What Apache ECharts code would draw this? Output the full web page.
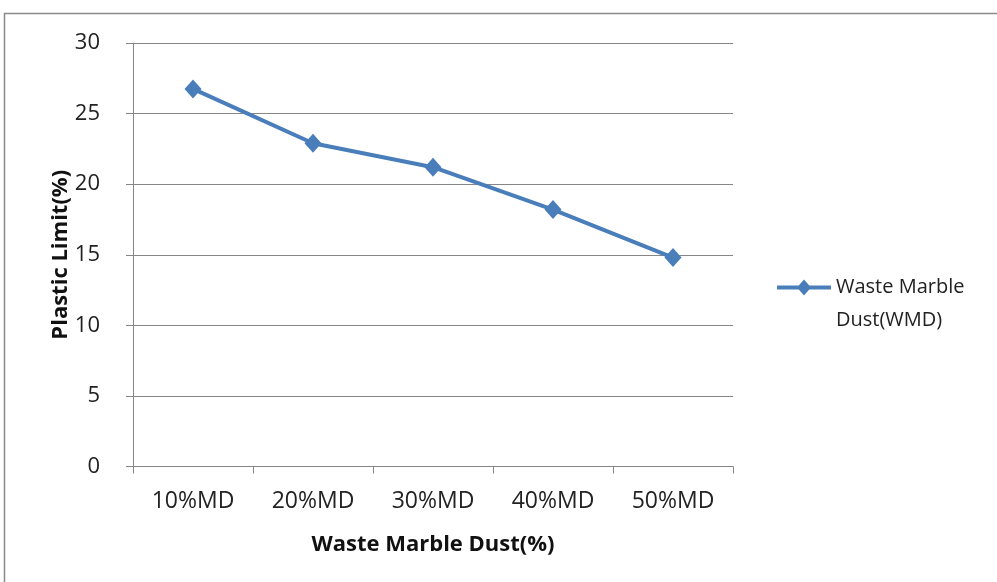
<!DOCTYPE html>
<html>
<head>
<meta charset="utf-8">
<script src="https://cdn.jsdelivr.net/npm/echarts@6/dist/echarts.min.js"></script>
<style>
html,body{margin:0;padding:0;background:#fff;}
#chart{width:997px;height:582px;}
</style>
</head>
<body>
<div id="chart"></div>
<script>
var categories = ['10%MD', '20%MD', '30%MD', '40%MD', '50%MD'];
var plasticLimit = [26.75, 22.9, 21.2, 18.2, 14.8];
var seriesName = 'Waste Marble Dust(WMD)';
var yTicks = [0, 5, 10, 15, 20, 25, 30];

var chart = echarts.init(document.getElementById('chart'));
var axisGrey = '#868686';
var font = 'Open Sans';
var legendIcon = 'path://M0 0 M0 66 M0 14.5 L54 14.5 L54 18.5 L0 18.5 Z M27 8.5 L34 16.5 L27 24.5 L20 16.5 Z';
chart.setOption({
  animation: false,
  backgroundColor: '#fff',
  graphic: [{
    type: 'rect',
    shape: {x: 4.5, y: 13.5, width: 1000, height: 600},
    style: {fill: 'none', stroke: '#8a8a8a', lineWidth: 1.5},
    silent: true
  }],
  grid: {left: 133, right: 264, top: 43, bottom: 115.5, containLabel: false},
  legend: {
    left: 772, top: 266,
    itemWidth: 54, itemHeight: 66,
    itemGap: 0,
    icon: legendIcon,
    formatter: function () { return 'Waste Marble\nDust(WMD)'; },
    textStyle: {fontFamily: font, fontSize: 20, color: '#222', lineHeight: 33},
    data: [seriesName]
  },
  xAxis: {
    type: 'category',
    data: categories,
    boundaryGap: true,
    axisLine: {lineStyle: {color: axisGrey, width: 1}},
    axisTick: {show: true, length: 7, lineStyle: {color: axisGrey}},
    axisLabel: {fontFamily: font, fontSize: 23, color: '#222', margin: 23},
    name: 'Waste Marble Dust(%)',
    nameLocation: 'middle',
    nameGap: 67,
    nameMoveOverlap: false,
    nameTextStyle: {fontFamily: font, fontSize: 22, fontWeight: 'bold', color: '#111'}
  },
  yAxis: {
    type: 'value',
    min: yTicks[0], max: yTicks[yTicks.length - 1], interval: 5,
    axisLine: {show: true, lineStyle: {color: axisGrey, width: 1}},
    axisTick: {show: true, length: 7, lineStyle: {color: axisGrey}},
    splitLine: {show: true, lineStyle: {color: axisGrey, width: 1}},
    axisLabel: {fontFamily: font, fontSize: 22, color: '#222', margin: 33},
    name: 'Plastic Limit(%)',
    nameLocation: 'middle',
    nameRotate: 90,
    nameGap: 61,
    nameMoveOverlap: false,
    nameTextStyle: {fontFamily: font, fontSize: 22, fontWeight: 'bold', color: '#111'}
  },
  series: [{
    name: seriesName,
    type: 'line',
    data: plasticLimit,
    symbol: 'diamond',
    symbolSize: [17, 19],
    lineStyle: {color: '#4a7ebb', width: 4},
    itemStyle: {color: '#4a7ebb'}
  }]
});
</script>
</body>
</html>
